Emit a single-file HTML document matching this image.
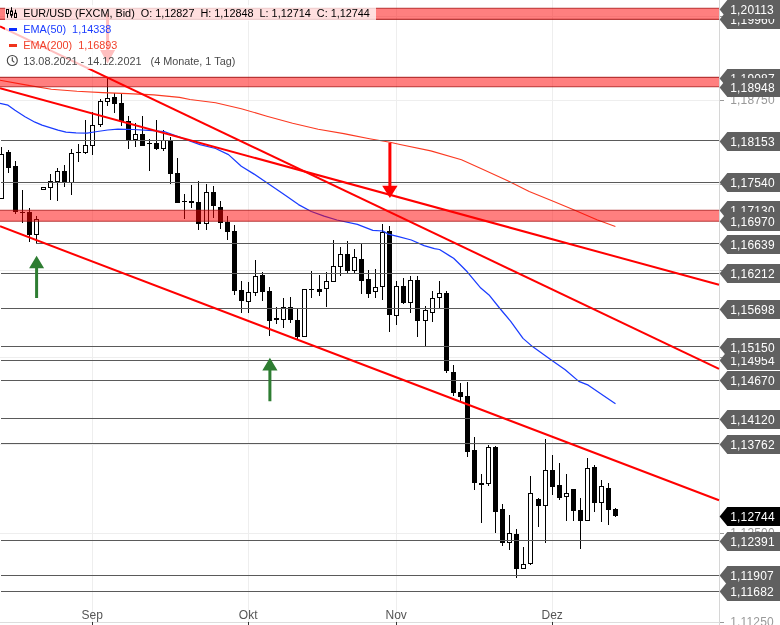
<!DOCTYPE html>
<html><head><meta charset="utf-8"><title>EUR/USD</title>
<style>
html,body{margin:0;padding:0;background:#fff;}
body{width:780px;height:625px;overflow:hidden;font-family:"Liberation Sans",sans-serif;}
svg{display:block;}
svg text{font-family:"Liberation Sans",sans-serif;white-space:pre;}
</style></head><body>
<svg width="780" height="625" viewBox="0 0 780 625">
<defs><filter id="nf" x="0" y="0" width="780" height="625" filterUnits="userSpaceOnUse" color-interpolation-filters="sRGB"><feOffset dx="0" dy="0"/></filter></defs>
<rect x="0" y="0" width="780" height="625" fill="#ffffff"/>

<g stroke="#eeeeee" stroke-width="1" shape-rendering="crispEdges">
<line x1="0" y1="622.5" x2="720" y2="622.5"/>
<line x1="0" y1="533.5" x2="720" y2="533.5"/>
<line x1="0" y1="444.5" x2="720" y2="444.5"/>
<line x1="0" y1="357.5" x2="720" y2="357.5"/>
<line x1="0" y1="270.5" x2="720" y2="270.5"/>
<line x1="0" y1="184.5" x2="720" y2="184.5"/>
<line x1="0" y1="100.5" x2="720" y2="100.5"/>
<line x1="0" y1="16.5" x2="720" y2="16.5"/>
<line x1="92.5" y1="0" x2="92.5" y2="622"/>
<line x1="248.5" y1="0" x2="248.5" y2="622"/>
<line x1="396.5" y1="0" x2="396.5" y2="622"/>
<line x1="552.5" y1="0" x2="552.5" y2="622"/>
</g>
<g shape-rendering="crispEdges">
<line x1="719.5" y1="0" x2="719.5" y2="625" stroke="#d6d6d6" stroke-width="1"/>
<line x1="0" y1="622.5" x2="720" y2="622.5" stroke="#dddddd" stroke-width="1"/>
<line x1="92.5" y1="622" x2="92.5" y2="625" stroke="#333333" stroke-width="1"/>
<line x1="248.5" y1="622" x2="248.5" y2="625" stroke="#333333" stroke-width="1"/>
<line x1="396.5" y1="622" x2="396.5" y2="625" stroke="#333333" stroke-width="1"/>
<line x1="552.5" y1="622" x2="552.5" y2="625" stroke="#333333" stroke-width="1"/>
<line x1="720" y1="622.5" x2="724" y2="622.5" stroke="#999999" stroke-width="1"/>
<line x1="720" y1="533.5" x2="724" y2="533.5" stroke="#999999" stroke-width="1"/>
<line x1="720" y1="444.5" x2="724" y2="444.5" stroke="#999999" stroke-width="1"/>
<line x1="720" y1="357.5" x2="724" y2="357.5" stroke="#999999" stroke-width="1"/>
<line x1="720" y1="270.5" x2="724" y2="270.5" stroke="#999999" stroke-width="1"/>
<line x1="720" y1="184.5" x2="724" y2="184.5" stroke="#999999" stroke-width="1"/>
<line x1="720" y1="100.5" x2="724" y2="100.5" stroke="#999999" stroke-width="1"/>
<line x1="720" y1="16.5" x2="724" y2="16.5" stroke="#999999" stroke-width="1"/>
</g>
<g font-size="12px" letter-spacing="0.18" fill="#999999" filter="url(#nf)">
<text x="730.2" y="626.0">1,11250</text>
<text x="730.2" y="537.0">1,12500</text>
<text x="730.2" y="448.0">1,13750</text>
<text x="730.2" y="361.0">1,15000</text>
<text x="730.2" y="274.0">1,16250</text>
<text x="730.2" y="188.0">1,17500</text>
<text x="730.2" y="104.0">1,18750</text>
<text x="730.2" y="20.0">1,20000</text>
</g>
<g font-size="12px" fill="#555555" text-anchor="middle" filter="url(#nf)">
<text x="92.2" y="618.6">Sep</text>
<text x="248.2" y="618.6">Okt</text>
<text x="396.2" y="618.6">Nov</text>
<text x="552.2" y="618.6">Dez</text>
</g>
<g shape-rendering="crispEdges">
<rect x="1.0" y="147" width="1" height="7.0" fill="#000"/>
<rect x="-0.5" y="154.5" width="4" height="44.0" fill="#fff" stroke="#000" stroke-width="1"/>
<rect x="8.0" y="150" width="1" height="2" fill="#000"/>
<rect x="8.0" y="168" width="1" height="5" fill="#000"/>
<rect x="6.0" y="152" width="5" height="16" fill="#000"/>
<rect x="15.0" y="161" width="1" height="5" fill="#000"/>
<rect x="15.0" y="212" width="1" height="2" fill="#000"/>
<rect x="13.0" y="166" width="5" height="46" fill="#000"/>
<rect x="22.0" y="190" width="1" height="33" fill="#000"/>
<rect x="20.0" y="212" width="5" height="1" fill="#000"/>
<rect x="29.0" y="208" width="1" height="4" fill="#000"/>
<rect x="29.0" y="235" width="1" height="7" fill="#000"/>
<rect x="27.0" y="212" width="5" height="23" fill="#000"/>
<rect x="36.0" y="216" width="1" height="3.0" fill="#000"/>
<rect x="36.0" y="235.0" width="1" height="9.0" fill="#000"/>
<rect x="34.5" y="219.5" width="4" height="15.0" fill="#fff" stroke="#000" stroke-width="1"/>
<rect x="41.5" y="187.5" width="4" height="2.0" fill="#fff" stroke="#000" stroke-width="1"/>
<rect x="50.0" y="174" width="1" height="7.0" fill="#000"/>
<rect x="50.0" y="188.0" width="1" height="12.0" fill="#000"/>
<rect x="48.5" y="181.5" width="4" height="6.0" fill="#fff" stroke="#000" stroke-width="1"/>
<rect x="57.0" y="168" width="1" height="3.0" fill="#000"/>
<rect x="57.0" y="182.0" width="1" height="19.0" fill="#000"/>
<rect x="55.5" y="171.5" width="4" height="10.0" fill="#fff" stroke="#000" stroke-width="1"/>
<rect x="64.0" y="165" width="1" height="6" fill="#000"/>
<rect x="64.0" y="182" width="1" height="5" fill="#000"/>
<rect x="62.0" y="171" width="5" height="11" fill="#000"/>
<rect x="71.0" y="149" width="1" height="4.0" fill="#000"/>
<rect x="71.0" y="183.0" width="1" height="12.0" fill="#000"/>
<rect x="69.5" y="153.5" width="4" height="29.0" fill="#fff" stroke="#000" stroke-width="1"/>
<rect x="78.0" y="144" width="1" height="18" fill="#000"/>
<rect x="76.0" y="152" width="5" height="1" fill="#000"/>
<rect x="85.0" y="120" width="1" height="25.0" fill="#000"/>
<rect x="85.0" y="153.0" width="1" height="1.0" fill="#000"/>
<rect x="83.5" y="145.5" width="4" height="7.0" fill="#fff" stroke="#000" stroke-width="1"/>
<rect x="92.0" y="112" width="1" height="13.0" fill="#000"/>
<rect x="92.0" y="146.0" width="1" height="9.0" fill="#000"/>
<rect x="90.5" y="125.5" width="4" height="20.0" fill="#fff" stroke="#000" stroke-width="1"/>
<rect x="100.0" y="99" width="1" height="2.0" fill="#000"/>
<rect x="100.0" y="125.0" width="1" height="2.0" fill="#000"/>
<rect x="98.5" y="101.5" width="4" height="23.0" fill="#fff" stroke="#000" stroke-width="1"/>
<rect x="107.0" y="78" width="1" height="20.0" fill="#000"/>
<rect x="107.0" y="102.0" width="1" height="4.0" fill="#000"/>
<rect x="105.5" y="98.5" width="4" height="3.0" fill="#fff" stroke="#000" stroke-width="1"/>
<rect x="114.0" y="93" width="1" height="4" fill="#000"/>
<rect x="114.0" y="104" width="1" height="9" fill="#000"/>
<rect x="112.0" y="97" width="5" height="7" fill="#000"/>
<rect x="121.0" y="93" width="1" height="10" fill="#000"/>
<rect x="121.0" y="121" width="1" height="5" fill="#000"/>
<rect x="119.0" y="103" width="5" height="18" fill="#000"/>
<rect x="128.0" y="116" width="1" height="5" fill="#000"/>
<rect x="128.0" y="140" width="1" height="9" fill="#000"/>
<rect x="126.0" y="121" width="5" height="19" fill="#000"/>
<rect x="135.0" y="123" width="1" height="11.0" fill="#000"/>
<rect x="135.0" y="140.0" width="1" height="7.0" fill="#000"/>
<rect x="133.5" y="134.5" width="4" height="5.0" fill="#fff" stroke="#000" stroke-width="1"/>
<rect x="142.0" y="116" width="1" height="18" fill="#000"/>
<rect x="140.0" y="134" width="5" height="12" fill="#000"/>
<rect x="149.0" y="139" width="1" height="32" fill="#000"/>
<rect x="147.0" y="143" width="5" height="1" fill="#000"/>
<rect x="156.0" y="120" width="1" height="23" fill="#000"/>
<rect x="156.0" y="149" width="1" height="1" fill="#000"/>
<rect x="154.0" y="143" width="5" height="6" fill="#000"/>
<rect x="163.0" y="130" width="1" height="10.0" fill="#000"/>
<rect x="163.0" y="149.0" width="1" height="2.0" fill="#000"/>
<rect x="161.5" y="140.5" width="4" height="8.0" fill="#fff" stroke="#000" stroke-width="1"/>
<rect x="170.0" y="137" width="1" height="3" fill="#000"/>
<rect x="170.0" y="174" width="1" height="10" fill="#000"/>
<rect x="168.0" y="140" width="5" height="34" fill="#000"/>
<rect x="177.0" y="158" width="1" height="15" fill="#000"/>
<rect x="175.0" y="173" width="5" height="30" fill="#000"/>
<rect x="184.0" y="194" width="1" height="25" fill="#000"/>
<rect x="182.0" y="201" width="5" height="1" fill="#000"/>
<rect x="191.0" y="185" width="1" height="16" fill="#000"/>
<rect x="191.0" y="203" width="1" height="5" fill="#000"/>
<rect x="189.0" y="201" width="5" height="2" fill="#000"/>
<rect x="198.0" y="181" width="1" height="21" fill="#000"/>
<rect x="198.0" y="224" width="1" height="6" fill="#000"/>
<rect x="196.0" y="202" width="5" height="22" fill="#000"/>
<rect x="206.0" y="184" width="1" height="8.0" fill="#000"/>
<rect x="206.0" y="224.0" width="1" height="6.0" fill="#000"/>
<rect x="204.5" y="192.5" width="4" height="31.0" fill="#fff" stroke="#000" stroke-width="1"/>
<rect x="213.0" y="186" width="1" height="6" fill="#000"/>
<rect x="213.0" y="206" width="1" height="12" fill="#000"/>
<rect x="211.0" y="192" width="5" height="14" fill="#000"/>
<rect x="220.0" y="201" width="1" height="6" fill="#000"/>
<rect x="220.0" y="223" width="1" height="6" fill="#000"/>
<rect x="218.0" y="207" width="5" height="16" fill="#000"/>
<rect x="227.0" y="216" width="1" height="6" fill="#000"/>
<rect x="227.0" y="232" width="1" height="8" fill="#000"/>
<rect x="225.0" y="222" width="5" height="10" fill="#000"/>
<rect x="234.0" y="225" width="1" height="6" fill="#000"/>
<rect x="234.0" y="291" width="1" height="4" fill="#000"/>
<rect x="232.0" y="231" width="5" height="60" fill="#000"/>
<rect x="241.0" y="281" width="1" height="9" fill="#000"/>
<rect x="241.0" y="301" width="1" height="12" fill="#000"/>
<rect x="239.0" y="290" width="5" height="11" fill="#000"/>
<rect x="248.0" y="282" width="1" height="10.0" fill="#000"/>
<rect x="248.0" y="302.0" width="1" height="11.0" fill="#000"/>
<rect x="246.5" y="292.5" width="4" height="9.0" fill="#fff" stroke="#000" stroke-width="1"/>
<rect x="255.0" y="260" width="1" height="16.0" fill="#000"/>
<rect x="255.0" y="293.0" width="1" height="3.0" fill="#000"/>
<rect x="253.5" y="276.5" width="4" height="16.0" fill="#fff" stroke="#000" stroke-width="1"/>
<rect x="262.0" y="272" width="1" height="3" fill="#000"/>
<rect x="262.0" y="292" width="1" height="9" fill="#000"/>
<rect x="260.0" y="275" width="5" height="17" fill="#000"/>
<rect x="269.0" y="287" width="1" height="4" fill="#000"/>
<rect x="269.0" y="321" width="1" height="15" fill="#000"/>
<rect x="267.0" y="291" width="5" height="30" fill="#000"/>
<rect x="276.0" y="307" width="1" height="11" fill="#000"/>
<rect x="276.0" y="320" width="1" height="4" fill="#000"/>
<rect x="274.0" y="318" width="5" height="2" fill="#000"/>
<rect x="283.0" y="298" width="1" height="9.0" fill="#000"/>
<rect x="283.0" y="320.0" width="1" height="8.0" fill="#000"/>
<rect x="281.5" y="307.5" width="4" height="12.0" fill="#fff" stroke="#000" stroke-width="1"/>
<rect x="290.0" y="297" width="1" height="10" fill="#000"/>
<rect x="290.0" y="320" width="1" height="3" fill="#000"/>
<rect x="288.0" y="307" width="5" height="13" fill="#000"/>
<rect x="297.0" y="309" width="1" height="11" fill="#000"/>
<rect x="297.0" y="337" width="1" height="2" fill="#000"/>
<rect x="295.0" y="320" width="5" height="17" fill="#000"/>
<rect x="302.5" y="289.5" width="4" height="47.0" fill="#fff" stroke="#000" stroke-width="1"/>
<rect x="311.0" y="271" width="1" height="27" fill="#000"/>
<rect x="309.0" y="289" width="5" height="1" fill="#000"/>
<rect x="319.0" y="275" width="1" height="14" fill="#000"/>
<rect x="319.0" y="292" width="1" height="4" fill="#000"/>
<rect x="317.0" y="289" width="5" height="3" fill="#000"/>
<rect x="326.0" y="272" width="1" height="9.0" fill="#000"/>
<rect x="326.0" y="289.0" width="1" height="18.0" fill="#000"/>
<rect x="324.5" y="281.5" width="4" height="7.0" fill="#fff" stroke="#000" stroke-width="1"/>
<rect x="333.0" y="240" width="1" height="26.0" fill="#000"/>
<rect x="331.5" y="266.5" width="4" height="15.0" fill="#fff" stroke="#000" stroke-width="1"/>
<rect x="340.0" y="247" width="1" height="7.0" fill="#000"/>
<rect x="340.0" y="267.0" width="1" height="9.0" fill="#000"/>
<rect x="338.5" y="254.5" width="4" height="12.0" fill="#fff" stroke="#000" stroke-width="1"/>
<rect x="347.0" y="241" width="1" height="13" fill="#000"/>
<rect x="347.0" y="271" width="1" height="2" fill="#000"/>
<rect x="345.0" y="254" width="5" height="17" fill="#000"/>
<rect x="354.0" y="249" width="1" height="8.0" fill="#000"/>
<rect x="354.0" y="271.0" width="1" height="2.0" fill="#000"/>
<rect x="352.5" y="257.5" width="4" height="13.0" fill="#fff" stroke="#000" stroke-width="1"/>
<rect x="361.0" y="244" width="1" height="15" fill="#000"/>
<rect x="361.0" y="281" width="1" height="13" fill="#000"/>
<rect x="359.0" y="259" width="5" height="22" fill="#000"/>
<rect x="368.0" y="270" width="1" height="9" fill="#000"/>
<rect x="368.0" y="294" width="1" height="4" fill="#000"/>
<rect x="366.0" y="279" width="5" height="15" fill="#000"/>
<rect x="375.0" y="269" width="1" height="18.0" fill="#000"/>
<rect x="375.0" y="292.0" width="1" height="6.0" fill="#000"/>
<rect x="373.5" y="287.5" width="4" height="4.0" fill="#fff" stroke="#000" stroke-width="1"/>
<rect x="382.0" y="224" width="1" height="8.0" fill="#000"/>
<rect x="382.0" y="287.0" width="1" height="13.0" fill="#000"/>
<rect x="380.5" y="232.5" width="4" height="54.0" fill="#fff" stroke="#000" stroke-width="1"/>
<rect x="389.0" y="226" width="1" height="5" fill="#000"/>
<rect x="389.0" y="315" width="1" height="17" fill="#000"/>
<rect x="387.0" y="231" width="5" height="84" fill="#000"/>
<rect x="396.0" y="281" width="1" height="5.0" fill="#000"/>
<rect x="396.0" y="316.0" width="1" height="9.0" fill="#000"/>
<rect x="394.5" y="286.5" width="4" height="29.0" fill="#fff" stroke="#000" stroke-width="1"/>
<rect x="403.0" y="278" width="1" height="8" fill="#000"/>
<rect x="403.0" y="303" width="1" height="1" fill="#000"/>
<rect x="401.0" y="286" width="5" height="17" fill="#000"/>
<rect x="410.0" y="276" width="1" height="4.0" fill="#000"/>
<rect x="410.0" y="303.0" width="1" height="10.0" fill="#000"/>
<rect x="408.5" y="280.5" width="4" height="22.0" fill="#fff" stroke="#000" stroke-width="1"/>
<rect x="417.0" y="276" width="1" height="4" fill="#000"/>
<rect x="417.0" y="321" width="1" height="16" fill="#000"/>
<rect x="415.0" y="280" width="5" height="41" fill="#000"/>
<rect x="425.0" y="306" width="1" height="4.0" fill="#000"/>
<rect x="425.0" y="321.0" width="1" height="25.0" fill="#000"/>
<rect x="423.5" y="310.5" width="4" height="10.0" fill="#fff" stroke="#000" stroke-width="1"/>
<rect x="432.0" y="291" width="1" height="7.0" fill="#000"/>
<rect x="432.0" y="313.0" width="1" height="9.0" fill="#000"/>
<rect x="430.5" y="298.5" width="4" height="14.0" fill="#fff" stroke="#000" stroke-width="1"/>
<rect x="439.0" y="281" width="1" height="12.0" fill="#000"/>
<rect x="439.0" y="298.0" width="1" height="10.0" fill="#000"/>
<rect x="437.5" y="293.5" width="4" height="4.0" fill="#fff" stroke="#000" stroke-width="1"/>
<rect x="446.0" y="291" width="1" height="2" fill="#000"/>
<rect x="446.0" y="371" width="1" height="2" fill="#000"/>
<rect x="444.0" y="293" width="5" height="78" fill="#000"/>
<rect x="453.0" y="365" width="1" height="7" fill="#000"/>
<rect x="453.0" y="393" width="1" height="3" fill="#000"/>
<rect x="451.0" y="372" width="5" height="21" fill="#000"/>
<rect x="460.0" y="383" width="1" height="9" fill="#000"/>
<rect x="460.0" y="397" width="1" height="5" fill="#000"/>
<rect x="458.0" y="392" width="5" height="5" fill="#000"/>
<rect x="467.0" y="382" width="1" height="14" fill="#000"/>
<rect x="467.0" y="452" width="1" height="5" fill="#000"/>
<rect x="465.0" y="396" width="5" height="56" fill="#000"/>
<rect x="474.0" y="437" width="1" height="13" fill="#000"/>
<rect x="474.0" y="483" width="1" height="7" fill="#000"/>
<rect x="472.0" y="450" width="5" height="33" fill="#000"/>
<rect x="481.0" y="474" width="1" height="9" fill="#000"/>
<rect x="481.0" y="485" width="1" height="38" fill="#000"/>
<rect x="479.0" y="483" width="5" height="2" fill="#000"/>
<rect x="488.0" y="445" width="1" height="2.0" fill="#000"/>
<rect x="488.0" y="484.0" width="1" height="2.0" fill="#000"/>
<rect x="486.5" y="447.5" width="4" height="36.0" fill="#fff" stroke="#000" stroke-width="1"/>
<rect x="495.0" y="446" width="1" height="1" fill="#000"/>
<rect x="495.0" y="512" width="1" height="21" fill="#000"/>
<rect x="493.0" y="447" width="5" height="65" fill="#000"/>
<rect x="502.0" y="504" width="1" height="5" fill="#000"/>
<rect x="502.0" y="543" width="1" height="3" fill="#000"/>
<rect x="500.0" y="509" width="5" height="34" fill="#000"/>
<rect x="509.0" y="515" width="1" height="18.0" fill="#000"/>
<rect x="509.0" y="543.0" width="1" height="7.0" fill="#000"/>
<rect x="507.5" y="533.5" width="4" height="9.0" fill="#fff" stroke="#000" stroke-width="1"/>
<rect x="516.0" y="529" width="1" height="5" fill="#000"/>
<rect x="516.0" y="569" width="1" height="9" fill="#000"/>
<rect x="514.0" y="534" width="5" height="35" fill="#000"/>
<rect x="523.0" y="547" width="1" height="17.0" fill="#000"/>
<rect x="521.5" y="564.5" width="4" height="4.0" fill="#fff" stroke="#000" stroke-width="1"/>
<rect x="530.0" y="476" width="1" height="17.0" fill="#000"/>
<rect x="530.0" y="564.0" width="1" height="1.0" fill="#000"/>
<rect x="528.5" y="493.5" width="4" height="70.0" fill="#fff" stroke="#000" stroke-width="1"/>
<rect x="538.0" y="498" width="1" height="1" fill="#000"/>
<rect x="538.0" y="506" width="1" height="21" fill="#000"/>
<rect x="536.0" y="499" width="5" height="7" fill="#000"/>
<rect x="545.0" y="439" width="1" height="31.0" fill="#000"/>
<rect x="545.0" y="506.0" width="1" height="37.0" fill="#000"/>
<rect x="543.5" y="470.5" width="4" height="35.0" fill="#fff" stroke="#000" stroke-width="1"/>
<rect x="552.0" y="455" width="1" height="15" fill="#000"/>
<rect x="552.0" y="487" width="1" height="8" fill="#000"/>
<rect x="550.0" y="470" width="5" height="17" fill="#000"/>
<rect x="559.0" y="463" width="1" height="22" fill="#000"/>
<rect x="559.0" y="498" width="1" height="2" fill="#000"/>
<rect x="557.0" y="485" width="5" height="13" fill="#000"/>
<rect x="566.0" y="474" width="1" height="19.0" fill="#000"/>
<rect x="566.0" y="497.0" width="1" height="24.0" fill="#000"/>
<rect x="564.5" y="493.5" width="4" height="3.0" fill="#fff" stroke="#000" stroke-width="1"/>
<rect x="573.0" y="511" width="1" height="10" fill="#000"/>
<rect x="571.0" y="489" width="5" height="22" fill="#000"/>
<rect x="580.0" y="498" width="1" height="12" fill="#000"/>
<rect x="580.0" y="521" width="1" height="28" fill="#000"/>
<rect x="578.0" y="510" width="5" height="11" fill="#000"/>
<rect x="587.0" y="458" width="1" height="10.0" fill="#000"/>
<rect x="585.5" y="468.5" width="4" height="52.0" fill="#fff" stroke="#000" stroke-width="1"/>
<rect x="594.0" y="465" width="1" height="2" fill="#000"/>
<rect x="594.0" y="503" width="1" height="9" fill="#000"/>
<rect x="592.0" y="467" width="5" height="36" fill="#000"/>
<rect x="601.0" y="480" width="1" height="6.0" fill="#000"/>
<rect x="601.0" y="503.0" width="1" height="19.0" fill="#000"/>
<rect x="599.5" y="486.5" width="4" height="16.0" fill="#fff" stroke="#000" stroke-width="1"/>
<rect x="608.0" y="483" width="1" height="5" fill="#000"/>
<rect x="608.0" y="510" width="1" height="15" fill="#000"/>
<rect x="606.0" y="488" width="5" height="22" fill="#000"/>
<rect x="615.0" y="508" width="1" height="1" fill="#000"/>
<rect x="615.0" y="516" width="1" height="1" fill="#000"/>
<rect x="613.0" y="509" width="5" height="7" fill="#000"/>
</g>
<path d="M0.0,80.2 L25.6,84.9 L51.3,89.2 L76.9,91.2 L102.6,92.6 L128.2,93.6 L153.8,94.9 L179.5,97.4 L190.0,99.5 L215.6,102.8 L241.3,108.7 L266.9,116.2 L292.6,123.3 L318.2,129.2 L343.8,133.6 L350.0,134.9 L369.5,138.7 L390.0,142.3 L400.0,144.5 L430.8,150.9 L461.5,159.8 L483.1,169.4 L507.7,180.8 L529.2,191.5 L553.8,201.4 L575.4,210.6 L596.9,219.8 L615.4,226.6" fill="none" stroke="#fb3a22" stroke-width="1.1" stroke-linejoin="round"/>
<path d="M0.0,103.3 L8.0,105.2 L15.0,110.3 L25.0,116.7 L35.0,122.2 L42.0,125.1 L50.0,127.6 L58.0,130.2 L66.0,132.1 L76.0,132.8 L87.0,133.1 L97.4,131.5 L107.7,130.0 L117.9,129.2 L133.3,129.5 L148.7,130.3 L164.1,131.5 L179.5,137.2 L189.7,141.0 L200.0,144.6 L215.6,148.5 L228.5,154.6 L241.3,166.2 L254.1,174.1 L266.9,182.8 L272.8,186.7 L285.6,195.6 L298.5,204.6 L311.3,211.5 L324.1,216.2 L336.9,220.0 L357.4,224.4 L372.8,230.3 L383.1,231.0 L388.2,234.1 L398.5,236.7 L411.3,240.0 L424.1,245.6 L434.4,248.7 L439.5,249.5 L449.7,255.9 L453.6,258.2 L460.0,264.5 L467.2,271.8 L480.8,288.1 L489.0,294.9 L499.9,308.5 L510.7,321.3 L523.0,338.4 L532.5,346.6 L551.6,360.2 L565.2,369.7 L578.8,381.4 L588.3,385.2 L603.3,395.6 L615.5,403.7" fill="none" stroke="#1a3cff" stroke-width="1.25" stroke-linejoin="round"/>
<g stroke="#5a5a5a" stroke-width="1" shape-rendering="crispEdges">
<line x1="1" y1="140.5" x2="719" y2="140.5"/>
<line x1="1" y1="182.5" x2="719" y2="182.5"/>
<line x1="36" y1="243.5" x2="719" y2="243.5"/>
<line x1="1" y1="273.5" x2="719" y2="273.5"/>
<line x1="1" y1="308.5" x2="719" y2="308.5"/>
<line x1="1" y1="346.5" x2="719" y2="346.5"/>
<line x1="1" y1="360.5" x2="719" y2="360.5"/>
<line x1="1" y1="380.5" x2="719" y2="380.5"/>
<line x1="1" y1="418.5" x2="719" y2="418.5"/>
<line x1="1" y1="443.5" x2="719" y2="443.5"/>
<line x1="1" y1="540.5" x2="719" y2="540.5"/>
<line x1="1" y1="575.5" x2="719" y2="575.5"/>
<line x1="1" y1="591.5" x2="719" y2="591.5"/>
</g>
<rect x="0" y="8.2" width="719" height="11.1" fill="#ff0000" fill-opacity="0.5"/>
<line x1="0" y1="8.2" x2="719" y2="8.2" stroke="#a00808" stroke-opacity="0.75" stroke-width="1.1"/>
<line x1="0" y1="19.4" x2="719" y2="19.4" stroke="#a00808" stroke-opacity="0.75" stroke-width="1.1"/>
<rect x="0" y="77.4" width="719" height="9.3" fill="#ff0000" fill-opacity="0.5"/>
<line x1="0" y1="77.4" x2="719" y2="77.4" stroke="#a00808" stroke-opacity="0.75" stroke-width="1.1"/>
<line x1="0" y1="86.7" x2="719" y2="86.7" stroke="#a00808" stroke-opacity="0.75" stroke-width="1.1"/>
<rect x="0" y="210.3" width="719" height="10.9" fill="#ff0000" fill-opacity="0.5"/>
<line x1="0" y1="210.3" x2="719" y2="210.3" stroke="#a00808" stroke-opacity="0.75" stroke-width="1.1"/>
<line x1="0" y1="221.2" x2="719" y2="221.2" stroke="#a00808" stroke-opacity="0.75" stroke-width="1.1"/>
<g stroke="#ff0000" stroke-width="2" stroke-linecap="butt">
<line x1="0" y1="26.3" x2="719" y2="368.9"/>
<line x1="0" y1="88.2" x2="719" y2="284.8"/>
<line x1="0" y1="226.3" x2="719" y2="500.2"/>
</g>
<path d="M106.1,13 L109.1,13 L109.1,50.0 L115.1,50.0 L107.6,63.5 L100.1,50.0 L106.1,50.0 Z" fill="#ff0000"/>
<path d="M388.4,142.8 L391.4,142.8 L391.4,185.7 L397.59999999999997,185.7 L389.9,198 L382.2,185.7 L388.4,185.7 Z" fill="#ff0000"/>
<path d="M35.1,298 L38.1,298 L38.1,268.3 L44.1,268.3 L36.6,255.7 L29.1,268.3 L35.1,268.3 Z" fill="#2e7d32"/>
<path d="M268.4,401.2 L271.4,401.2 L271.4,370.5 L277.5,370.5 L269.9,357.7 L262.29999999999995,370.5 L268.4,370.5 Z" fill="#2e7d32"/>
<g filter="url(#nf)">
<path d="M719.6,19.5 L727.3,10.0 L780,10.0 L780,29.0 L727.3,29.0 Z" fill="#606060"/><text x="730.2" y="23.8" font-size="12px" letter-spacing="0.18" fill="#ffffff">1,19960</text>
<path d="M719.6,9.5 L727.3,0.0 L780,0.0 L780,19.0 L727.3,19.0 Z" fill="#606060"/><text x="730.2" y="13.8" font-size="12px" letter-spacing="0.18" fill="#ffffff">1,20113</text>
<path d="M719.6,78.5 L727.3,69.0 L780,69.0 L780,88.0 L727.3,88.0 Z" fill="#606060"/><text x="730.2" y="82.8" font-size="12px" letter-spacing="0.18" fill="#ffffff">1,19087</text>
<path d="M719.6,87.5 L727.3,78.0 L780,78.0 L780,97.0 L727.3,97.0 Z" fill="#606060"/><text x="730.2" y="91.8" font-size="12px" letter-spacing="0.18" fill="#ffffff">1,18948</text>
<path d="M719.6,141.5 L727.3,132.0 L780,132.0 L780,151.0 L727.3,151.0 Z" fill="#606060"/><text x="730.2" y="145.8" font-size="12px" letter-spacing="0.18" fill="#ffffff">1,18153</text>
<path d="M719.6,182.5 L727.3,173.0 L780,173.0 L780,192.0 L727.3,192.0 Z" fill="#606060"/><text x="730.2" y="186.8" font-size="12px" letter-spacing="0.18" fill="#ffffff">1,17540</text>
<path d="M719.6,210.5 L727.3,201.0 L780,201.0 L780,220.0 L727.3,220.0 Z" fill="#606060"/><text x="730.2" y="214.8" font-size="12px" letter-spacing="0.18" fill="#ffffff">1,17130</text>
<path d="M719.6,221.5 L727.3,212.0 L780,212.0 L780,231.0 L727.3,231.0 Z" fill="#606060"/><text x="730.2" y="225.8" font-size="12px" letter-spacing="0.18" fill="#ffffff">1,16970</text>
<path d="M719.6,244.5 L727.3,235.0 L780,235.0 L780,254.0 L727.3,254.0 Z" fill="#606060"/><text x="730.2" y="248.8" font-size="12px" letter-spacing="0.18" fill="#ffffff">1,16639</text>
<path d="M719.6,273.5 L727.3,264.0 L780,264.0 L780,283.0 L727.3,283.0 Z" fill="#606060"/><text x="730.2" y="277.8" font-size="12px" letter-spacing="0.18" fill="#ffffff">1,16212</text>
<path d="M719.6,309.5 L727.3,300.0 L780,300.0 L780,319.0 L727.3,319.0 Z" fill="#606060"/><text x="730.2" y="313.8" font-size="12px" letter-spacing="0.18" fill="#ffffff">1,15698</text>
<path d="M719.6,360.5 L727.3,351.0 L780,351.0 L780,370.0 L727.3,370.0 Z" fill="#606060"/><text x="730.2" y="364.8" font-size="12px" letter-spacing="0.18" fill="#ffffff">1,14954</text>
<path d="M719.6,347.5 L727.3,338.0 L780,338.0 L780,357.0 L727.3,357.0 Z" fill="#606060"/><text x="730.2" y="351.8" font-size="12px" letter-spacing="0.18" fill="#ffffff">1,15150</text>
<path d="M719.6,380.5 L727.3,371.0 L780,371.0 L780,390.0 L727.3,390.0 Z" fill="#606060"/><text x="730.2" y="384.8" font-size="12px" letter-spacing="0.18" fill="#ffffff">1,14670</text>
<path d="M719.6,419.5 L727.3,410.0 L780,410.0 L780,429.0 L727.3,429.0 Z" fill="#606060"/><text x="730.2" y="423.8" font-size="12px" letter-spacing="0.18" fill="#ffffff">1,14120</text>
<path d="M719.6,444.5 L727.3,435.0 L780,435.0 L780,454.0 L727.3,454.0 Z" fill="#606060"/><text x="730.2" y="448.8" font-size="12px" letter-spacing="0.18" fill="#ffffff">1,13762</text>
<path d="M719.6,541.5 L727.3,532.0 L780,532.0 L780,551.0 L727.3,551.0 Z" fill="#606060"/><text x="730.2" y="545.8" font-size="12px" letter-spacing="0.18" fill="#ffffff">1,12391</text>
<path d="M719.6,575.5 L727.3,566.0 L780,566.0 L780,585.0 L727.3,585.0 Z" fill="#606060"/><text x="730.2" y="579.8" font-size="12px" letter-spacing="0.18" fill="#ffffff">1,11907</text>
<path d="M719.6,591.5 L727.3,582.0 L780,582.0 L780,601.0 L727.3,601.0 Z" fill="#606060"/><text x="730.2" y="595.8" font-size="12px" letter-spacing="0.18" fill="#ffffff">1,11682</text>
<path d="M719.6,516.5 L727.3,507.0 L780,507.0 L780,526.0 L727.3,526.0 Z" fill="#000000"/><text x="730.2" y="520.8" font-size="12px" letter-spacing="0.18" fill="#ffffff">1,12744</text>
</g>
<g fill="#ffffff" fill-opacity="0.75">
<rect x="5" y="5" width="371" height="16"/>
<rect x="5" y="21" width="112" height="16"/>
<rect x="5" y="37" width="118" height="16"/>
<rect x="5" y="53" width="236" height="16"/>
</g>
<g fill="none" stroke="#000" stroke-width="1">
<rect x="6.5" y="9.5" width="2" height="4"/><line x1="7.5" y1="14" x2="7.5" y2="17.8"/>
<line x1="11.5" y1="7.2" x2="11.5" y2="11"/><line x1="11.5" y1="15.2" x2="11.5" y2="17.8"/><rect x="10.5" y="11" width="2" height="4.2"/>
<line x1="15.5" y1="9.6" x2="15.5" y2="13"/><rect x="14.5" y="13.3" width="2" height="4.2"/>
</g>
<rect x="9" y="28" width="8" height="3" fill="#0a2cff"/>
<rect x="9" y="44" width="8" height="3" fill="#f0341c"/>
<circle cx="12.3" cy="60.5" r="5" fill="none" stroke="#444" stroke-width="1.1"/><path d="M12.3,57.2 L12.3,60.7 L14.4,62.4" fill="none" stroke="#444" stroke-width="1.1"/>
<g font-size="10.85px" filter="url(#nf)">
<text x="23.3" y="16.6" fill="#000000">EUR/USD (FXCM, Bid)  O: 1,12827  H: 1,12848  L: 1,12714  C: 1,12744</text>
<text x="23.3" y="32.6" fill="#1a3cff">EMA(50)  1,14338</text>
<text x="23.3" y="48.6" fill="#f0402a">EMA(200)  1,16893</text>
<text x="23.3" y="64.6" fill="#4a4a4a">13.08.2021 - 14.12.2021   (4 Monate, 1 Tag)</text>
</g>
</svg></body></html>
